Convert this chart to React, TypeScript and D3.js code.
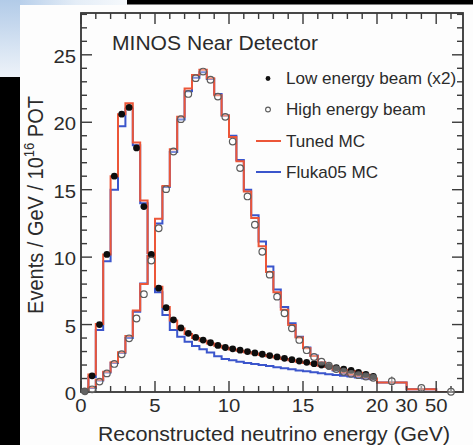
import { useEffect, useRef } from 'react';
import * as d3 from 'd3';

// 0.5 GeV bins up to 20 GeV, then three wide tail bins (drawn compressed)
const binEdges = [
  0, 0.5, 1, 1.5, 2, 2.5, 3, 3.5, 4, 4.5, 5, 5.5, 6, 6.5, 7, 7.5, 8, 8.5, 9, 9.5,
  10, 10.5, 11, 11.5, 12, 12.5, 13, 13.5, 14, 14.5, 15, 15.5, 16, 16.5, 17, 17.5, 18, 18.5, 19, 19.5, 20,
];
const tailEdges = [20, 30, 50, 100];

// Low energy beam (x2)
const lowData = [
  0.05, 1.2, 5.0, 10.2, 16.0, 20.6, 21.1, 18.1, 13.75, 10.2,
  7.7, 6.25, 5.35, 4.75, 4.35, 4.05, 3.85, 3.65, 3.45, 3.3,
  3.2, 3.1, 3.0, 2.9, 2.8, 2.7, 2.6, 2.5, 2.4, 2.3,
  2.2, 2.1, 2.0, 1.9, 1.8, 1.7, 1.6, 1.45, 1.3, 1.15,
];
const lowTuned = [
  0.1, 1.3, 5.05, 10.2, 16.0, 20.6, 21.4, 18.5, 14.2, 10.3,
  7.8, 6.3, 5.3, 4.7, 4.3, 4.0, 3.8, 3.6, 3.42, 3.28,
  3.16, 3.05, 2.95, 2.85, 2.75, 2.65, 2.55, 2.45, 2.35, 2.25,
  2.15, 2.05, 1.95, 1.85, 1.75, 1.65, 1.55, 1.42, 1.28, 1.12,
];
const lowFluka = [
  0.05, 1.1, 4.6, 9.7, 15.0, 19.7, 21.0, 18.3, 14.0, 10.3,
  7.4, 5.7, 4.6, 4.1, 3.73, 3.41, 3.17, 2.92, 2.65, 2.45,
  2.35, 2.25, 2.15, 2.08, 2.0, 1.92, 1.84, 1.76, 1.68, 1.6,
  1.53, 1.46, 1.39, 1.32, 1.26, 1.2, 1.14, 1.08, 1.02, 0.97,
];

// High energy beam (0.5 GeV bins + tail bins 20-30, 30-50, 50+)
const highData = [
  0.05, 0.2, 0.77, 1.38, 2.08, 2.8, 3.98, 5.45, 7.25, 9.75,
  12.14, 15.04, 17.83, 20.23, 22.1, 23.27, 23.76, 23.15, 21.9, 20.4,
  18.57, 16.6, 14.5, 12.4, 10.4, 8.7, 7.07, 5.84, 4.72, 3.86,
  3.1, 2.6, 2.25, 1.95, 1.7, 1.5, 1.35, 1.25, 1.15, 1.05,
  0.8, 0.3, 0.02,
];
const highTuned = [
  0.05, 0.35, 0.9, 1.5, 2.2, 2.95, 4.15, 6.05, 8.0, 10.1,
  12.85, 15.28, 18.0, 20.4, 22.5, 23.5, 23.9, 23.27, 22.0, 20.5,
  18.9, 17.1, 14.86, 12.9, 10.8, 8.9, 7.4, 6.1, 4.97, 4.05,
  3.24, 2.67, 2.2, 1.9, 1.65, 1.45, 1.3, 1.2, 1.1, 1.0,
  0.7, 0.2, 0,
];
const highFluka = [
  0.05, 0.3, 0.85, 1.45, 2.15, 2.9, 4.0, 5.95, 8.05, 10.1,
  12.5, 15.2, 17.8, 20.2, 22.3, 23.3, 23.7, 23.2, 22.1, 20.5,
  19.0, 17.2, 15.0, 13.1, 11.15, 9.3, 7.6, 6.3, 5.1, 4.1,
  3.3, 2.7, 2.2, 1.85, 1.6, 1.4, 1.25, 1.12, 1.02, 0.95,
  0.7, 0.2, 0,
];
const highTailErr = [0.35, 0.15, 0.05];

const yMajor = [0, 5, 10, 15, 20, 25];
const yMinor = [1, 2, 3, 4, 6, 7, 8, 9, 11, 12, 13, 14, 16, 17, 18, 19, 21, 22, 23, 24, 26, 27, 28];
const xLabels = [0, 5, 10, 15, 20, 30, 50];
const xMajor = [0, 5, 10, 15, 20, 50];
const xMinor = [1, 2, 3, 4, 6, 7, 8, 9, 11, 12, 13, 14, 16, 17, 18, 19, 25, 30, 40, 75];

const legendLabels = ['Low energy beam (x2)', 'High energy beam', 'Tuned MC', 'Fluka05 MC'];

const ORANGE = '#ec5638';
const BLUE = '#3a55cc';
const INK = '#2b2b2b';
const FONT = '"Liberation Sans", Arial, Helvetica, sans-serif';

const App = () => {
  const svgRef = useRef<SVGSVGElement>(null);

  useEffect(() => {
    const root = d3.select(svgRef.current);
    root.selectAll('*').remove();

    const margin = { top: 13, left: 81 };
    const width = 382;
    const height = 379;
    const unit = 14.8; // px per GeV on the linear part
    const sx = 1.07; // the picture is slightly stretched sideways

    const defs = root.append('defs');
    const g1 = defs.append('linearGradient').attr('id', 'bg-top').attr('x1', 0).attr('x2', 1).attr('y1', 0).attr('y2', 0);
    g1.append('stop').attr('offset', '0%').attr('stop-color', '#a9c5e6');
    g1.append('stop').attr('offset', '60%').attr('stop-color', '#e4edf7');
    g1.append('stop').attr('offset', '100%').attr('stop-color', '#f6f9fc');
    const g2 = defs.append('linearGradient').attr('id', 'bg-left').attr('x1', 0).attr('x2', 0).attr('y1', 0).attr('y2', 1);
    g2.append('stop').attr('offset', '0%').attr('stop-color', '#b2cbe8');
    g2.append('stop').attr('offset', '100%').attr('stop-color', '#eef3f9');
    defs.append('clipPath').attr('id', 'plot-clip')
      .append('rect').attr('width', width).attr('height', height);
    defs.append('filter').attr('id', 'soft')
      .append('feGaussianBlur').attr('stdDeviation', 0.35);

    // page background pieces
    root.append('rect').attr('width', 473).attr('height', 445).attr('fill', '#fdfdfd');
    root.append('rect').attr('x', 0).attr('y', 0).attr('width', 127).attr('height', 5).attr('fill', 'url(#bg-top)');
    root.append('rect').attr('x', 0).attr('y', 0).attr('width', 20).attr('height', 77).attr('fill', 'url(#bg-left)');
    root.append('rect').attr('x', 127).attr('y', 0).attr('width', 346).attr('height', 4.5).attr('fill', '#000');
    root.append('rect').attr('x', 0).attr('y', 77).attr('width', 20).attr('height', 368).attr('fill', '#000');

    const chart = root.append('g').attr('filter', 'url(#soft)');
    const svg = chart.append('g').attr('transform', `translate(${margin.left},${margin.top})`);

    // Scales: linear to 20 GeV, then each tail bin gets 2 GeV of room
    const x = d3.scaleLinear()
      .domain([0, 20, 30, 50, 100])
      .range([0, 20, 22, 24, 26].map(u => u * unit));
    const y = d3.scaleLinear().domain([0, 28.1]).range([height, 0]);

    const histPath = (edges: number[], vals: number[]) => {
      const pts: [number, number][] = [[edges[0], 0]];
      vals.forEach((v, i) => pts.push([edges[i], v]));
      pts.push([edges[vals.length], vals[vals.length - 1]]);
      return d3.line<[number, number]>()
        .x(d => x(d[0]))
        .y(d => y(d[1]))
        .curve(d3.curveStepAfter)(pts);
    };

    const heEdges = binEdges.concat(tailEdges.slice(1));
    const centers = (edges: number[], n: number) =>
      d3.range(n).map(i => x.invert((x(edges[i]) + x(edges[i + 1])) / 2));

    const hists = svg.append('g').attr('clip-path', 'url(#plot-clip)');
    [
      { e: binEdges, v: lowFluka, c: BLUE },
      { e: heEdges, v: highFluka, c: BLUE },
      { e: binEdges, v: lowTuned, c: ORANGE },
      { e: heEdges, v: highTuned, c: ORANGE },
    ].forEach(h => {
      hists.append('path')
        .attr('d', histPath(h.e, h.v))
        .attr('fill', 'none')
        .attr('stroke', h.c)
        .attr('stroke-width', 2)
        .attr('stroke-linejoin', 'miter');
    });

    // Frame + ticks on all four sides
    svg.append('rect')
      .attr('width', width).attr('height', height)
      .attr('fill', 'none').attr('stroke', '#353535').attr('stroke-width', 1.8);

    const ticks = svg.append('g').attr('stroke', '#3a3a3a').attr('stroke-width', 1.4);
    const yTick = (v: number, len: number) => {
      ticks.append('line').attr('x1', 0).attr('x2', len).attr('y1', y(v)).attr('y2', y(v));
      ticks.append('line').attr('x1', width).attr('x2', width - len).attr('y1', y(v)).attr('y2', y(v));
    };
    yMajor.forEach(v => yTick(v, 11));
    yMinor.forEach(v => yTick(v, 6));
    const xTick = (v: number, len: number) => {
      ticks.append('line').attr('x1', x(v)).attr('x2', x(v)).attr('y1', height).attr('y2', height - len);
      ticks.append('line').attr('x1', x(v)).attr('x2', x(v)).attr('y1', 0).attr('y2', len);
    };
    xMajor.forEach(v => xTick(v, 11));
    xMinor.forEach(v => xTick(v, 6));

    // Data points
    const lowCenters = centers(binEdges, lowData.length);
    svg.append('g').selectAll('circle')
      .data(lowData)
      .join('circle')
      .attr('cx', (d, i) => x(lowCenters[i]))
      .attr('cy', d => y(d))
      .attr('r', 3.4)
      .attr('fill', '#111');

    const highCenters = centers(heEdges, highData.length);
    const errStart = highData.length - highTailErr.length;
    svg.append('g').selectAll('line')
      .data(highTailErr)
      .join('line')
      .attr('x1', (d, i) => x(highCenters[errStart + i]))
      .attr('x2', (d, i) => x(highCenters[errStart + i]))
      .attr('y1', (d, i) => y(highData[errStart + i] + d))
      .attr('y2', (d, i) => y(Math.max(0, highData[errStart + i] - d)))
      .attr('stroke', '#666')
      .attr('stroke-width', 1.2);
    svg.append('g').selectAll('circle')
      .data(highData)
      .join('circle')
      .attr('cx', (d, i) => x(highCenters[i]))
      .attr('cy', d => y(d))
      .attr('r', 3.3)
      .attr('fill', 'rgba(255,255,255,0.35)')
      .attr('stroke', '#5c5c5c')
      .attr('stroke-width', 1.2);

    // Text
    const text = (px: number, py: number, str: string, size: number, anchor: string) =>
      root.append('text')
        .attr('transform', `translate(${px},${py}) scale(${sx},1)`)
        .attr('text-anchor', anchor)
        .attr('font-family', FONT)
        .attr('font-size', size)
        .attr('fill', INK)
        .text(str);

    yMajor.forEach(v => text(margin.left - 5, margin.top + y(v) + 8, String(v), 19, 'end'));
    xLabels.forEach(v => text(margin.left + x(v), 412, String(v), 19, 'middle'));

    text(112, 50, 'MINOS Near Detector', 19.7, 'start');
    text(margin.left + width / 2 + 2, 441, 'Reconstructed neutrino energy (GeV)', 19.8, 'middle');

    const yl = root.append('text')
      .attr('transform', `translate(43,205) scale(${sx},1) rotate(-90)`)
      .attr('text-anchor', 'middle')
      .attr('font-family', FONT)
      .attr('font-size', 20)
      .attr('fill', INK);
    yl.append('tspan').text('Events / GeV / 10');
    yl.append('tspan').attr('font-size', 13).attr('dy', -8).text('16');
    yl.append('tspan').attr('dy', 8).text(' POT');

    // Legend
    const lx = 286;
    const ly = [84, 115, 147, 178];
    legendLabels.forEach((lab, i) => text(lx, ly[i], lab, 16, 'start'));
    root.append('circle').attr('cx', 268).attr('cy', ly[0] - 5.5).attr('r', 2.4).attr('fill', '#111');
    root.append('circle').attr('cx', 268).attr('cy', ly[1] - 5.5).attr('r', 2.4)
      .attr('fill', 'none').attr('stroke', '#5c5c5c').attr('stroke-width', 1.1);
    root.append('line').attr('x1', 256).attr('x2', 281).attr('y1', ly[2] - 6).attr('y2', ly[2] - 6)
      .attr('stroke', ORANGE).attr('stroke-width', 2);
    root.append('line').attr('x1', 256).attr('x2', 281).attr('y1', ly[3] - 6).attr('y2', ly[3] - 6)
      .attr('stroke', BLUE).attr('stroke-width', 2);
  }, []);

  return (
    <svg
      ref={svgRef}
      width={473}
      height={445}
      style={{ position: 'absolute', left: 0, top: 0, display: 'block' }}
    />
  );
};

export default App;
